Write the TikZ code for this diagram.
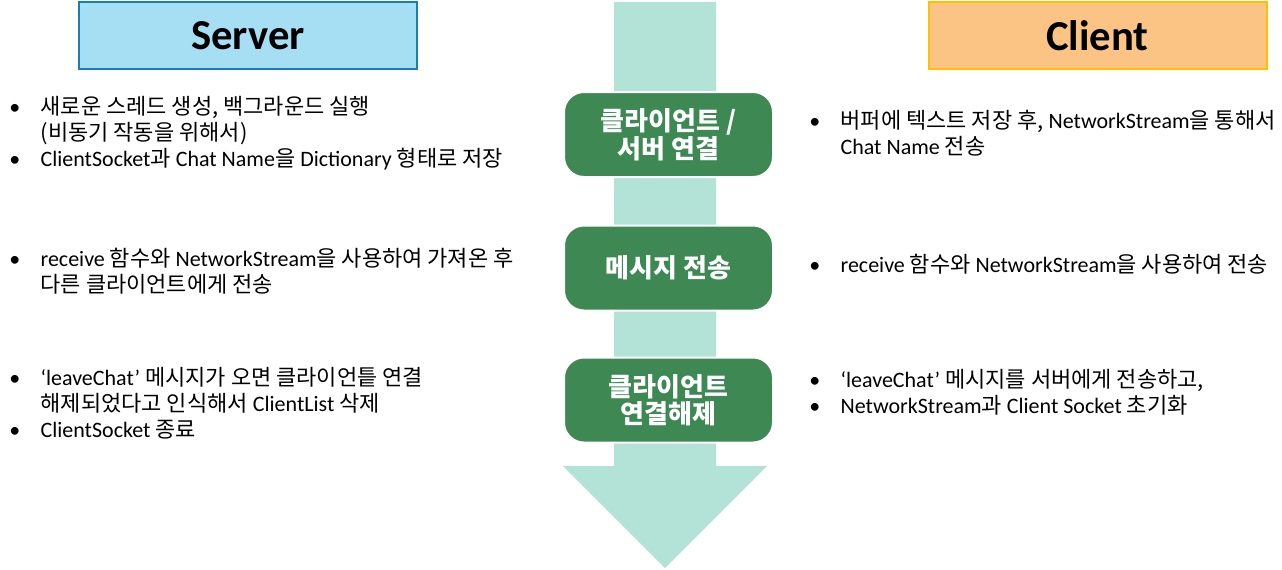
\documentclass[tikz,border=0pt]{standalone}
\usepackage{fontspec}
\setmainfont{Carlito}
\newfontfamily\kr{Noto Sans CJK KR}
\newcommand\ko[1]{{\kr #1}}
\newcommand\bl{\makebox[23.5pt][l]{\textbullet}}
\newcommand\ind{\hspace*{23.5pt}}

\definecolor{srvfill}{HTML}{A6DEF4}
\definecolor{srvline}{HTML}{1B7DB0}
\definecolor{clifill}{HTML}{FCC484}
\definecolor{cliline}{HTML}{FFC000}
\definecolor{stagegreen}{HTML}{3E8853}
\definecolor{flowmint}{HTML}{B3E3D6}

\begin{document}
\begin{tikzpicture}[x=0.75pt, y=-0.75pt,
    hdr/.style={draw, line width=1.5pt, minimum width=253.5pt, minimum height=50.25pt,
      inner sep=0pt, font=\bfseries\fontsize{32}{38}\selectfont},
    stage/.style={fill=stagegreen, draw=white, line width=1.5pt, rounded corners=15pt,
      minimum width=156.75pt, minimum height=63.75pt, align=center, text=white,
      font=\kr\bfseries\fontsize{19.5}{20}\selectfont},
    txt/.style={anchor=base west, align=left, inner sep=0pt,
      font=\fontsize{16.5}{19.5}\selectfont}]
  \useasboundingbox (0,0) rectangle (1282,569);

  % ---------------- flow arrow ----------------
  \fill[flowmint] (614,2) -- (716,2) -- (716,466) -- (767,466) -- (665,568)
    -- (563,466) -- (614,466) -- cycle;

  % ---------------- headers ----------------
  \node[hdr, fill=srvfill, draw=srvline] (server) at (248,35.5) {Server};
  \node[hdr, fill=clifill, draw=cliline] (client) at (1097.5,35.5) {Client};

  % ---------------- stages ----------------
  \node[stage] (connect) at (668.5,134.5) {클라이언트 /\\서버 연결};
  \node[stage] (message) at (668.5,268) {메시지 전송};
  \node[stage] (leave) at (668.5,400) {클라이언트\\연결해제};

  % ---------------- server side (anchored at last baseline) ----------------
  \node[txt] (srvconnect) at (9,166) {\bl\ko{새로운 스레드 생성, 백그라운드 실행}\\
    \ind\ko{(비동기 작동을 위해서)}\\
    \bl ClientSocket\ko{과} Chat Name\ko{을} Dictionary \ko{형태로 저장}};
  \node[txt] (srvmessage) at (9,292) {\bl receive \ko{함수와} NetworkStream\ko{을 사용하여 가져온 후}\\
    \ind\ko{다른 클라이언트에게 전송}};
  \node[txt] (srvleave) at (9,437) {\bl‘leaveChat’ \ko{메시지가 오면 클라이언틑 연결}\\
    \ind\ko{해제되었다고 인식해서} ClientList \ko{삭제}\\
    \bl ClientSocket \ko{종료}};

  % ---------------- client side ----------------
  \node[txt] (cliconnect) at (809,154) {\bl\ko{버퍼에 텍스트 저장 후,} NetworkStream\ko{을 통해서}\\
    \ind Chat Name \ko{전송}};
  \node[txt] (climessage) at (809,272) {\bl receive \ko{함수와} NetworkStream\ko{을 사용하여 전송}};
  \node[txt] (clileave) at (809,413) {\bl‘leaveChat’ \ko{메시지를 서버에게 전송하고,}\\
    \bl NetworkStream\ko{과} Client Socket \ko{초기화}};
\end{tikzpicture}
\end{document}
